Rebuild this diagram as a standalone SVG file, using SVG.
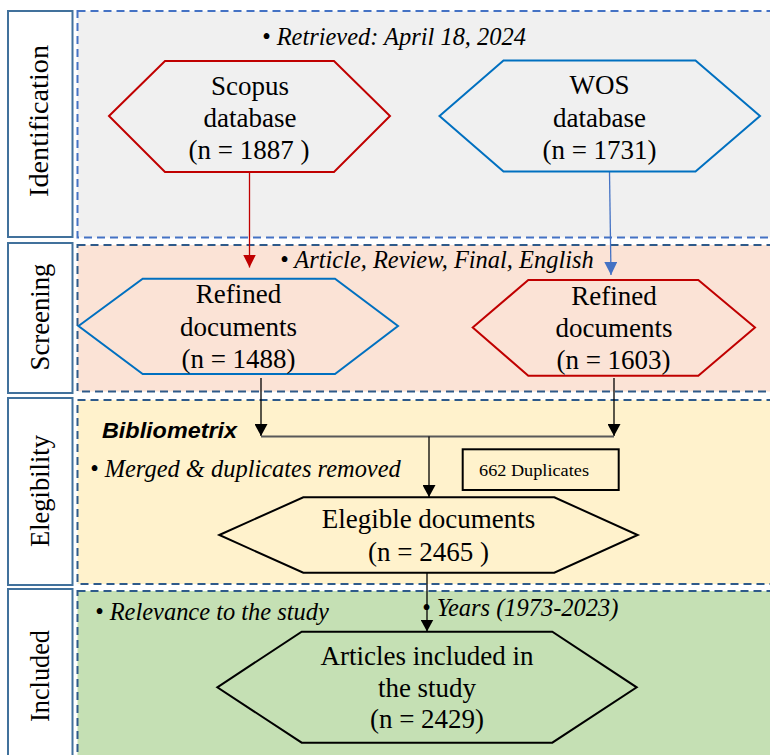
<svg xmlns="http://www.w3.org/2000/svg" width="770" height="755" viewBox="0 0 770 755" font-family="'Liberation Serif', 'Times New Roman', serif">
<style>
.lab{fill:#fff;stroke:#41719c;stroke-width:2}
.pan{stroke-width:2;stroke-dasharray:8 5}
.lt{font-size:27px;fill:#000;text-anchor:middle}
.nt{font-size:18px;fill:#000;text-anchor:middle}
.it{font-size:16.3px;font-style:italic;fill:#000}
.hex{fill:none;stroke-width:2}
.red{stroke:#c00000}
.blue{stroke:#0070c0}
.blk{stroke:#000}
.con{fill:none;stroke-width:1.3}
</style>
<defs>
<marker id="ar" markerUnits="userSpaceOnUse" markerWidth="13" markerHeight="13" viewBox="0 0 13 13" refX="13" refY="6.5" orient="auto"><path d="M0,0 L13,6.5 L0,13 Z" fill="#c00000"/></marker>
<marker id="ab" markerUnits="userSpaceOnUse" markerWidth="13" markerHeight="13" viewBox="0 0 13 13" refX="13" refY="6.5" orient="auto"><path d="M0,0 L13,6.5 L0,13 Z" fill="#4472c4"/></marker>
<marker id="ak" markerUnits="userSpaceOnUse" markerWidth="12" markerHeight="13" viewBox="0 0 12 13" refX="12" refY="6.5" orient="auto"><path d="M0,0 L12,6.5 L0,13 Z" fill="#000"/></marker>
</defs>
<rect width="770" height="755" fill="#fff"/>

<g id="panels">
<rect class="pan" x="77.5" y="11" width="700" height="226.5" fill="#f0f0f0" stroke="#4472c4"/>
<rect class="pan" x="77.5" y="245" width="700" height="146.5" fill="#fbe3d6" stroke="#2e5a8a"/>
<rect class="pan" x="77.5" y="400" width="700" height="184" fill="#fff2cc" stroke="#2e5a8a"/>
<rect class="pan" x="77.5" y="591" width="700" height="180" fill="#c5e0b4" stroke="#2e5a8a"/>
</g>

<g id="labels">
<g id="lab-identification"><rect class="lab" x="8" y="11" width="64.5" height="226"/><text class="lt" transform="translate(48,121) rotate(-90)" textLength="152" lengthAdjust="spacingAndGlyphs">Identification</text></g>
<g id="lab-screening"><rect class="lab" x="8" y="243" width="64.5" height="150"/><text class="lt" transform="translate(49,317) rotate(-90)" textLength="107" lengthAdjust="spacingAndGlyphs">Screening</text></g>
<g id="lab-elegibility"><rect class="lab" x="8" y="398" width="64.5" height="187"/><text class="lt" transform="translate(49,491) rotate(-90)" textLength="112" lengthAdjust="spacingAndGlyphs">Elegibility</text></g>
<g id="lab-included"><rect class="lab" x="8" y="589" width="64.5" height="180"/><text class="lt" transform="translate(49,676) rotate(-90)" textLength="92" lengthAdjust="spacingAndGlyphs">Included</text></g>
</g>

<g id="notes">
<text class="it" transform="translate(262,45) scale(1.5)">• Retrieved: April 18, 2024</text>
<text class="it" transform="translate(280,268) scale(1.5)">• Article, Review, Final, English</text>
<text x="102" y="438" font-family="'Liberation Sans', Arial, sans-serif" font-size="22" font-weight="bold" font-style="italic" textLength="135" lengthAdjust="spacingAndGlyphs">Bibliometrix</text>
<text class="it" transform="translate(90,477) scale(1.5)">• Merged &amp; duplicates removed</text>
<text class="it" transform="translate(95,620) scale(1.5)">• Relevance to the study</text>
<text class="it" transform="translate(422,616) scale(1.5)">• Years (1973-2023)</text>
</g>

<g id="connectors">
<line class="con" x1="249.5" y1="172" x2="249.5" y2="267.5" stroke="#c00000" marker-end="url(#ar)"/>
<line class="con" x1="609.5" y1="172" x2="611" y2="275" stroke="#4472c4" stroke-width="1" marker-end="url(#ab)"/>
<line class="con" x1="261" y1="378" x2="261" y2="436" stroke="#000" marker-end="url(#ak)"/>
<line class="con" x1="614" y1="378" x2="614" y2="436" stroke="#000" marker-end="url(#ak)"/>
<line x1="261" y1="436.5" x2="614" y2="436.5" stroke="#595959" stroke-width="1.8"/>
<line class="con" x1="429" y1="436.5" x2="429" y2="497" stroke="#000" marker-end="url(#ak)"/>
<line class="con" x1="427" y1="573" x2="427" y2="631.5" stroke="#000" marker-end="url(#ak)"/>
</g>

<g id="scopus">
<polygon class="hex red" points="109,116 165,61 334,61 390,116 334,172 165,172"/>
<text class="nt" transform="translate(250,95) scale(1.5)">Scopus</text>
<text class="nt" transform="translate(250,127) scale(1.5)">database</text>
<text class="nt" transform="translate(249,159) scale(1.5)">(n = 1887 )</text>
</g>

<g id="wos">
<polygon class="hex blue" points="439.5,116 503.5,60.5 695.5,60.5 760,116 695.5,171.5 503.5,171.5"/>
<text class="nt" transform="translate(599.5,94) scale(1.5)">WOS</text>
<text class="nt" transform="translate(599.5,127) scale(1.5)">database</text>
<text class="nt" transform="translate(599.5,159) scale(1.5)">(n = 1731)</text>
</g>

<g id="refined1">
<polygon class="hex blue" points="78.5,326 142.7,278.7 335,278.7 398,326 335,374 142.7,374"/>
<text class="nt" transform="translate(238.5,303) scale(1.5)">Refined</text>
<text class="nt" transform="translate(238.5,336) scale(1.5)">documents</text>
<text class="nt" transform="translate(238.5,368) scale(1.5)">(n = 1488)</text>
</g>

<g id="refined2">
<polygon class="hex red" points="472.7,327.5 528.3,280 698.3,280 755,327.5 698.3,375.7 528.3,375.7"/>
<text class="nt" transform="translate(614,305) scale(1.5)">Refined</text>
<text class="nt" transform="translate(614,337) scale(1.5)">documents</text>
<text class="nt" transform="translate(613.5,369) scale(1.5)">(n = 1603)</text>
</g>

<g id="duplicates">
<rect x="462.7" y="449.3" width="156" height="40.7" fill="none" stroke="#000" stroke-width="2"/>
<text x="479" y="476" font-size="17" textLength="110" lengthAdjust="spacingAndGlyphs">662 Duplicates</text>
</g>

<g id="elegible">
<polygon class="hex blk" points="219.3,535 303.3,497.3 554.3,497.3 637.7,535 554.3,572.7 303.3,572.7"/>
<text class="nt" transform="translate(428.5,528) scale(1.5)">Elegible documents</text>
<text class="nt" transform="translate(428.5,561) scale(1.5)">(n = 2465 )</text>
</g>

<g id="included">
<polygon class="hex blk" points="217.3,687.3 301.7,631.7 552.3,631.7 636.7,687.3 552.3,742.7 301.7,742.7"/>
<text class="nt" transform="translate(427,665) scale(1.5)">Articles included in</text>
<text class="nt" transform="translate(427,697) scale(1.5)">the study</text>
<text class="nt" transform="translate(427,728) scale(1.5)">(n = 2429)</text>
</g>
</svg>
